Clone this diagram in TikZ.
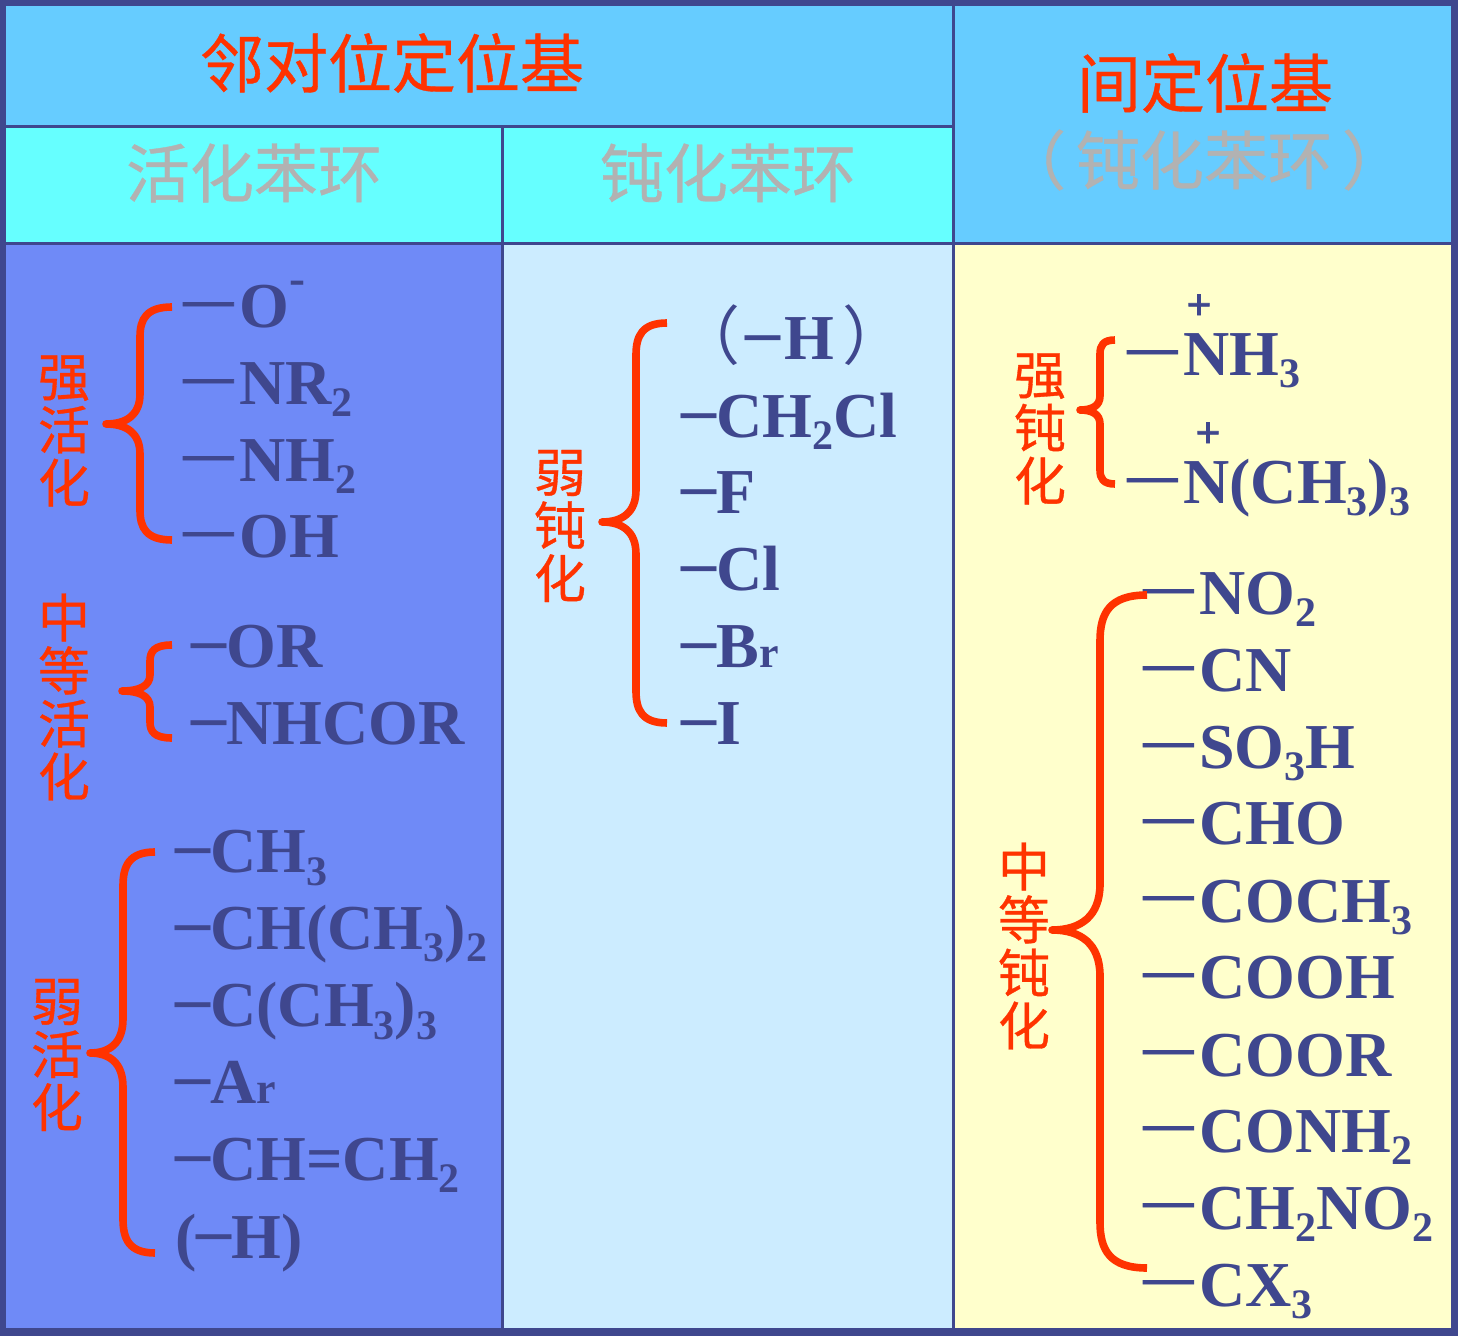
\documentclass[tikz,border=0pt]{standalone}
\usepackage{fontspec}
\usepackage{tikz}
\setmainfont{Liberation Serif}
\newfontfamily\cjk[FakeBold=0.6]{Noto Sans CJK SC}
\newfontfamily\cjkthin{Noto Sans CJK SC}
\newfontfamily\bondfont[FakeBold=1.6]{Liberation Serif}
\definecolor{framecol}{HTML}{3F478E}
\definecolor{headcol}{HTML}{66CCFF}
\definecolor{subcol}{HTML}{66FFFF}
\definecolor{leftcol}{HTML}{6F8AF7}
\definecolor{midcol}{HTML}{CCECFF}
\definecolor{rightcol}{HTML}{FFFFCC}
\definecolor{redcol}{HTML}{FF3300}
\definecolor{greycol}{HTML}{B2B2B2}
\newcommand{\lbond}{\raisebox{6pt}{\bondfont\fontsize{25}{25}\selectfont —}\kern3pt}
\newcommand{\sbond}{\raisebox{2.5pt}{\fontsize{35}{35}\selectfont –}}
\newcommand{\subd}[1]{\raisebox{-6pt}{\fontsize{21}{21}\selectfont #1}}
\newcommand{\smallr}{\fontsize{22}{22}\selectfont r}
\tikzset{
  chem/.style={anchor=base west,inner sep=0pt,text=framecol,font=\fontsize{32}{36}\selectfont\bfseries},
  plus/.style={inner sep=0pt,text=framecol,font=\bondfont\fontsize{22}{22}\selectfont\bfseries},
  title/.style={inner sep=0pt,text=redcol,font=\cjk\fontsize{32}{36}\selectfont},
  subtitle/.style={inner sep=0pt,text=greycol,font=\cjk\fontsize{32}{36}\selectfont},
  side/.style={inner sep=0pt,text=redcol,align=center,font=\cjk\fontsize{26}{26.5}\selectfont},
  redbrace/.style={draw=redcol,line width=3.8pt,line join=round},
}
\begin{document}
\begin{tikzpicture}[x=0.5pt,y=-0.5pt]
\useasboundingbox (0,0) rectangle (1458,1336);
% panels
\fill[framecol] (0,0) rectangle (1458,1336);
\fill[headcol] (6,6) rectangle (952,125);
\fill[subcol] (6,128) rectangle (501,242);
\fill[subcol] (504,128) rectangle (952,242);
\fill[headcol] (955,6) rectangle (1451,242);
\fill[leftcol] (6,245) rectangle (501,1328);
\fill[midcol] (504,245) rectangle (952,1328);
\fill[rightcol] (955,245) rectangle (1451,1328);
% headings
\node[title] (ortho) at (392,63) {邻对位定位基};
\node[subtitle] (act) at (254,173) {活化苯环};
\node[subtitle] (deact) at (728,173) {钝化苯环};
\node[title] (meta) at (1205,83) {间定位基};
\node[subtitle] (metasub) at (1204,160) {（\kern5pt 钝化苯环\kern5pt ）};
% side labels
\node[side] (strongact) at (64,431) {强\\活\\化};
\node[side] (midact) at (64,697) {中\\等\\活\\化};
\node[side] (weakact) at (57,1055) {弱\\活\\化};
\node[side] (weakdeact) at (560,526) {弱\\钝\\化};
\node[side] (strongdeact) at (1040,429) {强\\钝\\化};
\node[side] (middeact) at (1024,946) {中\\等\\钝\\化};
% strong activators
\node[chem] (o) at (183,328) {\lbond O\raisebox{16.5pt}{\fontsize{24}{24}\selectfont -}};
\node[chem] (nr) at (183,405) {\lbond NR\subd{2}};
\node[chem] (nh) at (183,482) {\lbond NH\subd{2}};
\node[chem] (oh) at (183,558) {\lbond OH};
% medium activators
\node[chem] (or) at (191,668) {\sbond OR};
\node[chem] (nhcor) at (191,745) {\sbond NHCOR};
% weak activators
\node[chem] (ch) at (175,873) {\sbond CH\subd{3}};
\node[chem] (ipr) at (175,950) {\sbond CH(CH\subd{3})\subd{2}};
\node[chem] (tbu) at (175,1027) {\sbond C(CH\subd{3})\subd{3}};
\node[chem] (ar) at (175,1103) {\sbond A\smallr};
\node[chem] (vinyl) at (175,1180) {\sbond CH=CH\subd{2}};
\node[chem] (hleft) at (175,1258) {(\sbond H)};
% weak deactivators
\node[chem] (hmid) at (676,360) {{\cjkthin\mdseries （}\kern2.5pt\sbond\kern2pt H\kern4pt{\cjkthin\mdseries ）}};
\node[chem] (chcl) at (681,438) {\sbond CH\subd{2}Cl};
\node[chem] (f) at (681,514) {\sbond F};
\node[chem] (cl) at (681,591) {\sbond Cl};
\node[chem] (br) at (681,668) {\sbond B\smallr};
\node[chem] (i) at (681,745) {\sbond I};
% strong deactivators
\node[chem] (nhthree) at (1127,376) {\lbond NH\subd{3}};
\node[chem] (nme) at (1127,504) {\lbond N(CH\subd{3})\subd{3}};
\node[plus] (plusa) at (1199,307) {+};
\node[plus] (plusb) at (1208,435) {+};
% medium deactivators
\node[chem] (no) at (1143,615) {\lbond NO\subd{2}};
\node[chem] (cn) at (1143,692) {\lbond CN};
\node[chem] (so) at (1143,769) {\lbond SO\subd{3}H};
\node[chem] (cho) at (1143,845) {\lbond CHO};
\node[chem] (coch) at (1143,922) {\lbond COCH\subd{3}};
\node[chem] (cooh) at (1143,999) {\lbond COOH};
\node[chem] (coor) at (1143,1076) {\lbond COOR};
\node[chem] (conh) at (1143,1152) {\lbond CONH\subd{2}};
\node[chem] (chno) at (1143,1229) {\lbond CH\subd{2}NO\subd{2}};
\node[chem] (cx) at (1143,1306) {\lbond CX\subd{3}};
% braces
\foreach \xe/\xv/\xt/\yt/\ym/\yb/\r in {172/140/106/307/424/540/30,
    172/150/122/645/691/738/16, 155/123/90/852/1053/1253/34,
    667/636/602/323/522/723/32, 1115/1100/1080/340/410/484/14,
    1147/1100/1052/595/930/1268/46}
  \draw[redbrace] (\xe,\yt) .. controls (\xv+0.2*\xe-0.2*\xv,\yt) and (\xv,\yt+0.4*\r) .. (\xv,\yt+\r)
    -- (\xv,\ym-\r) .. controls (\xv,\ym-0.3*\r) and (\xv-0.4*\xv+0.4*\xt,\ym) .. (\xt,\ym)
    .. controls (\xv-0.4*\xv+0.4*\xt,\ym) and (\xv,\ym+0.3*\r) .. (\xv,\ym+\r)
    -- (\xv,\yb-\r) .. controls (\xv,\yb-0.4*\r) and (\xv+0.2*\xe-0.2*\xv,\yb) .. (\xe,\yb);
\end{tikzpicture}
\end{document}
